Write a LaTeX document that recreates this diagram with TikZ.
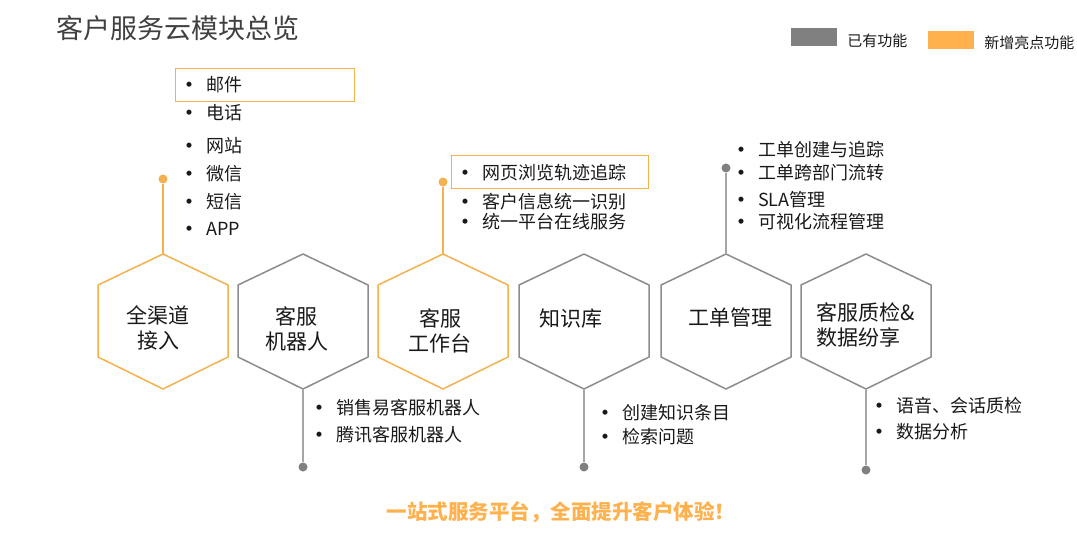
\documentclass[tikz,border=0pt]{standalone}
\usepackage{fontspec}
\setmainfont{Noto Sans CJK SC}
\usetikzlibrary{positioning}

\definecolor{neworange}{RGB}{245,176,80}
\definecolor{keyorange}{RGB}{255,177,77}
\definecolor{hexgray}{RGB}{140,140,140}
\definecolor{linegray}{RGB}{166,166,166}
\definecolor{dotgray}{RGB}{128,128,128}
\definecolor{titlegray}{RGB}{64,64,64}
\definecolor{textblack}{RGB}{25,25,25}

\newcommand{\itemdot}{\llap{\makebox[34pt][c]{\bfseries •}}}

\begin{document}
\begin{tikzpicture}[x=1pt,y=-1pt,
  hexo/.style={draw=neworange, line width=1.5pt},
  hexg/.style={draw=hexgray, line width=1.5pt},
  hexlabel/.style={align=center, inner sep=0pt, text=textblack, font=\fontsize{21}{25}\selectfont},
  item/.style={anchor=west, inner sep=0pt, text=textblack, font=\fontsize{18}{20}\selectfont},
  newbox/.style={draw=neworange, line width=1.2pt, anchor=north west, inner sep=0pt},
  dot/.style={circle, inner sep=0pt, minimum size=9pt},
  linko/.style={draw=neworange, line width=2pt},
  linkg/.style={draw=linegray, line width=2pt},
  keybox/.style={inner sep=0pt, minimum width=46pt, minimum height=18pt},
  keytext/.style={inner sep=0pt, text=textblack, font=\fontsize{15}{17}\selectfont}]
  \useasboundingbox (0,0) rectangle (1077,543);

  % Title and legend
  \node[anchor=west, inner sep=0pt, text=titlegray, font=\fontsize{27}{30}\selectfont] (title) at (56,28.5) {客户服务云模块总览};
  \node[keybox, fill=dotgray] (oldkey) at (814,37) {};
  \node[keytext, right=10pt of oldkey, yshift=-4pt] (oldtext) {已有功能};
  \node[keybox, fill=keyorange] (newkey) at (951,40) {};
  \node[keytext, right=10pt of newkey, yshift=-3pt] (newtext) {新增亮点功能};

  % Hexagons
  \draw[hexo] (163,254) coordinate (qudao-t) -- ++(65,31) -- ++(0,72) -- ++(-65,32) coordinate (qudao-b) -- ++(-65,-32) -- ++(0,-72) -- cycle;
  \draw[hexg] (303,254) coordinate (robot-t) -- ++(65,31) -- ++(0,72) -- ++(-65,32) coordinate (robot-b) -- ++(-65,-32) -- ++(0,-72) -- cycle;
  \draw[hexo] (443,254) coordinate (desk-t) -- ++(65,31) -- ++(0,72) -- ++(-65,32) coordinate (desk-b) -- ++(-65,-32) -- ++(0,-72) -- cycle;
  \draw[hexg] (584,254) coordinate (kb-t) -- ++(65,31) -- ++(0,72) -- ++(-65,32) coordinate (kb-b) -- ++(-65,-32) -- ++(0,-72) -- cycle;
  \draw[hexg] (726,254) coordinate (ticket-t) -- ++(65,31) -- ++(0,72) -- ++(-65,32) coordinate (ticket-b) -- ++(-65,-32) -- ++(0,-72) -- cycle;
  \draw[hexg] (866,254) coordinate (qc-t) -- ++(65,31) -- ++(0,72) -- ++(-65,32) coordinate (qc-b) -- ++(-65,-32) -- ++(0,-72) -- cycle;

  % Define nodes
  \node[hexlabel] (qudao) at (158,327.5) {全渠道\\接入};
  \node[hexlabel] (robot) at (296.5,328.5) {客服\\机器人};
  \node[hexlabel] (desk) at (440,330.5) {客服\\工作台};
  \node[hexlabel] (kb) at (571,319) {知识库};
  \node[hexlabel] (ticket) at (730,317) {工单管理};
  \node[hexlabel, align=left] (qc) at (866,324.5) {客服质检\&\\数据纷享};

  \node[dot, fill=neworange] (qudao-dot) at (163,179) {};
  \node[dot, fill=dotgray] (robot-dot) at (303,467) {};
  \node[dot, fill=neworange] (desk-dot) at (443,182) {};
  \node[dot, fill=dotgray] (kb-dot) at (584,467) {};
  \node[dot, fill=dotgray] (ticket-dot) at (726,168) {};
  \node[dot, fill=dotgray] (qc-dot) at (866,470) {};

  \node[newbox, minimum width=179pt, minimum height=33pt] (qudao-box) at (175,68) {};
  \node[item] (mail) at (206,85) {\itemdot 邮件};
  \node[item] (phone) at (206,113) {\itemdot 电话};
  \node[item] (web) at (206,146) {\itemdot 网站};
  \node[item] (wechat) at (206,174) {\itemdot 微信};
  \node[item] (sms) at (206,202) {\itemdot 短信};
  \node[item] (app) at (206,229) {\itemdot APP};

  \node[item] (sale) at (336,408) {\itemdot 销售易客服机器人};
  \node[item] (tx) at (336,435) {\itemdot 腾讯客服机器人};

  \node[newbox, minimum width=197pt, minimum height=33pt] (desk-box) at (451,155) {};
  \node[item] (track) at (482,173) {\itemdot 网页浏览轨迹追踪};
  \node[item] (ident) at (482,202) {\itemdot 客户信息统一识别};
  \node[item] (online) at (482,222) {\itemdot 统一平台在线服务};

  \node[item] (create) at (622,413) {\itemdot 创建知识条目};
  \node[item] (search) at (622,437) {\itemdot 检索问题};

  \node[item] (trace) at (758,150) {\itemdot 工单创建与追踪};
  \node[item] (dept) at (758,173) {\itemdot 工单跨部门流转};
  \node[item] (sla) at (758,200) {\itemdot SLA管理};
  \node[item] (flow) at (758,222) {\itemdot 可视化流程管理};

  \node[item] (voice) at (896,406) {\itemdot 语音、会话质检};
  \node[item] (data) at (896,432) {\itemdot 数据分析};

  \node[text=keyorange, font=\bfseries\fontsize{20.5}{22}\selectfont] (slogan) at (561,512) {一站式服务平台，全面提升客户体验！};

  % Connect the nodes
  \draw[linko] (qudao-dot) -- (qudao-t);
  \draw[linkg] (robot-b) -- (robot-dot);
  \draw[linko] (desk-dot) -- (desk-t);
  \draw[linkg] (kb-b) -- (kb-dot);
  \draw[linkg] (ticket-dot) -- (ticket-t);
  \draw[linkg] (qc-b) -- (qc-dot);

\end{tikzpicture}
\end{document}
